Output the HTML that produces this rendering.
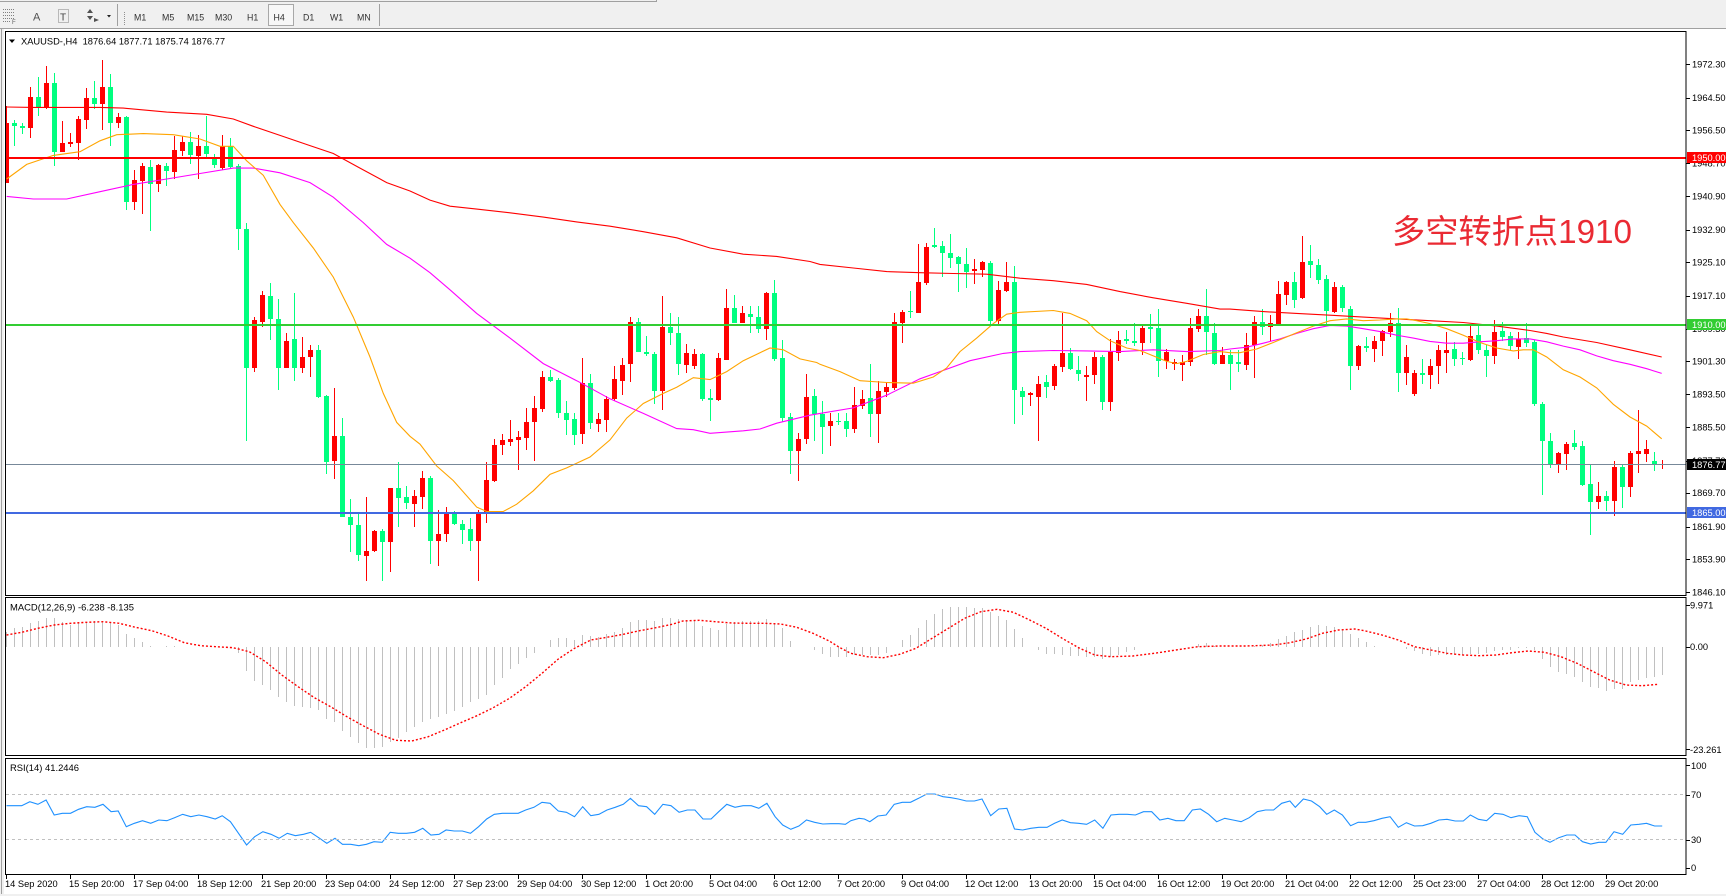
<!DOCTYPE html>
<html><head><meta charset="utf-8">
<style>
html,body{margin:0;padding:0;background:#fff;}
body{width:1726px;height:896px;overflow:hidden;position:relative;}
svg{position:absolute;left:0;top:0;}
text{font-family:"Liberation Sans","Noto Sans CJK SC",sans-serif;white-space:pre;}
</style></head><body>
<svg id="s" width="1726" height="896" viewBox="0 0 1726 896" xmlns="http://www.w3.org/2000/svg">
<defs>
<clipPath id="cm"><rect x="6" y="32" width="1680" height="563"/></clipPath>
<clipPath id="cd"><rect x="6" y="598" width="1680" height="157"/></clipPath>
<clipPath id="cr"><rect x="6" y="759" width="1680" height="115"/></clipPath>
</defs>
<rect width="1726" height="896" fill="#fff"/>
<!-- toolbar -->
<rect x="0" y="0" width="1726" height="29" fill="#f0f0f0"/>
<g shape-rendering="crispEdges">
<line x1="0" y1="28.5" x2="1726" y2="28.5" stroke="#a0a0a0"/>
<line x1="0" y1="1.5" x2="656" y2="1.5" stroke="#a0a0a0"/>
<line x1="656.5" y1="0" x2="656.5" y2="2" stroke="#a0a0a0"/>
<g stroke="#808080" stroke-dasharray="1 1">
<line x1="3" y1="9.5" x2="14" y2="9.5"/><line x1="3" y1="12.5" x2="14" y2="12.5"/>
<line x1="3" y1="15.5" x2="14" y2="15.5"/><line x1="3" y1="18.5" x2="14" y2="18.5"/>
<line x1="3" y1="21.5" x2="10" y2="21.5"/>
<rect x="58.5" y="9.5" width="10" height="13" fill="none"/>
</g>
<line x1="117.5" y1="4" x2="117.5" y2="26" stroke="#a0a0a0"/>
<line x1="124.5" y1="12" x2="124.5" y2="26" stroke="#909090" stroke-dasharray="1 1"/>
<line x1="379.5" y1="4" x2="379.5" y2="26" stroke="#a0a0a0"/>
<rect x="268.5" y="4.5" width="25" height="21" fill="#f7f7f7" stroke="#a8a8a8"/>
</g>
<text x="12" y="24" font-size="6" fill="#606060">F</text>
<text x="33" y="20.5" font-size="11" fill="#505050">A</text>
<text x="60" y="20.5" font-size="10" fill="#404040">T</text>
<polygon points="87,13 90,9 93,13" fill="#505050"/>
<polygon points="87,16 90,20 93,16" fill="#505050"/>
<polygon points="94,18 99,20 94,22" fill="#505050"/>
<polygon points="107,15 111,15 109,17.5" fill="#202020"/>
<g font-size="8.8" fill="#303030">
<text x="134" y="20.5">M1</text>
<text x="162" y="20.5">M5</text>
<text x="187" y="20.5">M15</text>
<text x="215" y="20.5">M30</text>
<text x="247" y="20.5">H1</text>
<text x="273.5" y="20.5">H4</text>
<text x="303" y="20.5">D1</text>
<text x="330" y="20.5">W1</text>
<text x="357" y="20.5">MN</text>
</g>
<!-- window left frame -->
<rect x="0" y="29" width="4" height="867" fill="#f0f0f0"/>
<line x1="1.5" y1="29" x2="1.5" y2="894" stroke="#a0a0a0" shape-rendering="crispEdges"/>
<rect x="0" y="894" width="1726" height="2" fill="#f0f0f0"/>

<!-- dynamic chart content -->
<g id="dm" clip-path="url(#cm)"></g>
<g id="dd" clip-path="url(#cd)"></g>
<g id="dr" clip-path="url(#cr)"></g>

<!-- horizontal level lines -->
<g shape-rendering="crispEdges" clip-path="url(#cm)">
<rect x="6" y="157" width="1680" height="2" fill="#ff0000"/>
<rect x="6" y="324" width="1680" height="2" fill="#32cd32"/>
<rect x="6" y="512" width="1680" height="2" fill="#4169e1"/>
<rect x="6" y="464" width="1680" height="1" fill="#778899"/>
</g>
<!-- RSI levels -->
<g stroke="#c0c0c0" stroke-dasharray="3 3" shape-rendering="crispEdges">
<line x1="6" y1="794.5" x2="1686" y2="794.5"/>
<line x1="6" y1="839.5" x2="1686" y2="839.5"/>
</g>

<!-- frames -->
<g fill="none" stroke="#000" shape-rendering="crispEdges">
<rect x="5.5" y="31.5" width="1680.5" height="564"/>
<rect x="5.5" y="597.5" width="1680.5" height="158"/>
<rect x="5.5" y="758.5" width="1680.5" height="116"/>
</g>
<g id="ticks" stroke="#000" shape-rendering="crispEdges"></g>

<!-- title -->
<polygon points="9,39.5 15,39.5 12,43" fill="#000"/>
<text x="21" y="44.5" font-size="9.4" fill="#000" textLength="204" lengthAdjust="spacingAndGlyphs">XAUUSD-,H4  1876.64 1877.71 1875.74 1876.77</text>
<text x="10" y="610.5" font-size="9.4" fill="#000" textLength="124" lengthAdjust="spacingAndGlyphs">MACD(12,26,9) -6.238 -8.135</text>
<text x="10" y="771" font-size="9.4" fill="#000" textLength="69" lengthAdjust="spacingAndGlyphs">RSI(14) 41.2446</text>

<!-- Chinese annotation -->
<text x="1392" y="243" font-size="33" fill="#ea2a33" textLength="240" lengthAdjust="spacingAndGlyphs" font-family="'Liberation Sans','Noto Sans CJK SC',sans-serif">多空转折点1910</text>

<!-- price axis labels -->
<g font-size="9.3" fill="#000">
<text x="1692" y="67.4">1972.30</text>
<text x="1692" y="101.1">1964.50</text>
<text x="1692" y="133.7">1956.50</text>
<text x="1692" y="166.4">1948.70</text>
<text x="1692" y="199.7">1940.90</text>
<text x="1692" y="233.1">1932.90</text>
<text x="1692" y="265.4">1925.10</text>
<text x="1692" y="299.1">1917.10</text>
<text x="1692" y="331.9">1909.30</text>
<text x="1692" y="364.4">1901.30</text>
<text x="1692" y="397.7">1893.50</text>
<text x="1692" y="430.4">1885.50</text>
<text x="1692" y="463.9">1877.70</text>
<text x="1692" y="496.1">1869.70</text>
<text x="1692" y="530.1">1861.90</text>
<text x="1692" y="562.7">1853.90</text>
<text x="1692" y="595.7">1846.10</text>
</g>
<!-- price boxes -->
<g shape-rendering="crispEdges">
<rect x="1687" y="152" width="39" height="11" fill="#ff0000"/>
<rect x="1687" y="319" width="39" height="11" fill="#32cd32"/>
<rect x="1687" y="459" width="39" height="11" fill="#000"/>
<rect x="1687" y="507" width="39" height="11" fill="#4169e1"/>
</g>
<g font-size="9.3" fill="#fff">
<text x="1692" y="161">1950.00</text>
<text x="1692" y="328">1910.00</text>
<text x="1692" y="468">1876.77</text>
<text x="1692" y="516">1865.00</text>
</g>
<!-- indicator axis labels -->
<g font-size="9.3" fill="#000">
<text x="1690" y="608.5">9.971</text>
<text x="1690" y="650">0.00</text>
<text x="1690" y="753">-23.261</text>
<text x="1691" y="769">100</text>
<text x="1691" y="798">70</text>
<text x="1691" y="843">30</text>
<text x="1691" y="871">0</text>
</g>
<!-- time labels -->
<g font-size="9.3" fill="#000">
<text x="5" y="887">14 Sep 2020</text>
<text x="69" y="887">15 Sep 20:00</text>
<text x="133" y="887">17 Sep 04:00</text>
<text x="197" y="887">18 Sep 12:00</text>
<text x="261" y="887">21 Sep 20:00</text>
<text x="325" y="887">23 Sep 04:00</text>
<text x="389" y="887">24 Sep 12:00</text>
<text x="453" y="887">27 Sep 23:00</text>
<text x="517" y="887">29 Sep 04:00</text>
<text x="581" y="887">30 Sep 12:00</text>
<text x="645" y="887">1 Oct 20:00</text>
<text x="709" y="887">5 Oct 04:00</text>
<text x="773" y="887">6 Oct 12:00</text>
<text x="837" y="887">7 Oct 20:00</text>
<text x="901" y="887">9 Oct 04:00</text>
<text x="965" y="887">12 Oct 12:00</text>
<text x="1029" y="887">13 Oct 20:00</text>
<text x="1093" y="887">15 Oct 04:00</text>
<text x="1157" y="887">16 Oct 12:00</text>
<text x="1221" y="887">19 Oct 20:00</text>
<text x="1285" y="887">21 Oct 04:00</text>
<text x="1349" y="887">22 Oct 12:00</text>
<text x="1413" y="887">25 Oct 23:00</text>
<text x="1477" y="887">27 Oct 04:00</text>
<text x="1541" y="887">28 Oct 12:00</text>
<text x="1605" y="887">29 Oct 20:00</text>
</g>
</svg>
<script>
(function(){
const NS="http://www.w3.org/2000/svg";
function el(t,a,p){const e=document.createElementNS(NS,t);for(const k in a)e.setAttribute(k,a[k]);p.appendChild(e);return e;}
const gm=document.getElementById('dm'),gd=document.getElementById('dd'),gr=document.getElementById('dr'),gt=document.getElementById('ticks');
const S=2.752, cy=z=>30+z/S;
const C=[
[1,255,420,210,420],[0,255,265,248,318],[0,263,270,255,285],[1,185,270,158,297],[0,185,215,130,237],
[1,147,215,100,218],[0,147,335,117,373],[1,312,335,250,337],[1,308,315,284,322],[1,245,310,238,357],
[1,187,247,160,273],[0,187,203,140,218],[1,157,203,83,275],[0,157,255,122,320],[1,240,255,228,270],
[0,240,472,237,495],[1,413,472,385,495],[1,375,415,365,505],[0,377,423,358,552],[1,372,423,368,445],
[0,375,388,365,428],[1,330,390,292,410],[1,308,332,293,347],[0,308,345,282,368],[1,320,348,290,410],
[0,320,340,237,350],[0,355,372,340,380],[1,318,380,290,385],[0,318,378,298,380],[0,373,548,370,605],
[0,548,930,532,1130],[1,798,930,790,940],[1,730,803,718,818],[0,733,795,697,852],[0,795,930,740,990],
[1,857,930,835,930],[0,850,930,725,965],[1,900,930,845,945],[1,880,900,868,955],[0,880,1010,867,1012],
[0,1007,1188,1005,1222],[1,1117,1187,985,1237],[0,1117,1340,1068,1340],[0,1340,1362,1290,1437],[0,1362,1445,1332,1460],
[1,1433,1447,1285,1515],[1,1378,1433,1375,1437],[0,1378,1410,1372,1515],[1,1260,1410,1260,1492],[0,1260,1288,1190,1368],
[0,1285,1302,1255,1318],[1,1282,1305,1265,1368],[1,1232,1285,1213,1318],[0,1232,1405,1228,1470],[1,1387,1407,1320,1475],
[1,1330,1388,1312,1410],[0,1330,1360,1325,1362],[0,1360,1375,1348,1415],[0,1373,1407,1342,1435],[1,1330,1407,1320,1515],
[1,1238,1330,1190,1358],[1,1142,1240,1125,1245],[1,1128,1142,1113,1170],[1,1125,1133,1073,1145],[1,1120,1128,1103,1212],
[1,1078,1122,1040,1155],[1,1040,1080,1007,1187],[1,955,1042,938,1050],[0,955,965,935,968],[0,963,1053,958,1068],
[0,1053,1072,1020,1115],[0,1070,1115,1055,1142],[1,972,1112,902,1140],[0,972,1082,948,1098],[1,1070,1085,1055,1105],
[1,1015,1072,1008,1105],[1,960,1015,925,1020],[1,922,965,902,1005],[1,803,920,790,970],[0,803,885,792,887],
[0,885,892,842,898],[0,893,993,885,1028],[1,817,993,732,1047],[0,817,835,780,868],[0,835,920,790,950],
[1,890,922,863,945],[1,892,925,878,932],[0,892,1015,890,1022],[0,1013,1017,988,1077],[1,902,1018,890,1022],
[1,765,907,712,907],[0,765,805,730,805],[1,780,805,760,805],[0,782,790,760,835],[0,790,822,760,833],
[1,725,822,720,852],[0,725,905,688,910],[0,902,1068,853,1080],[0,1065,1158,1053,1222],[1,1125,1158,1110,1240],
[1,1010,1125,948,1138],[0,1008,1058,988,1130],[0,1058,1093,1020,1168],[1,1075,1090,1055,1145],[0,1075,1078,1055,1088],
[0,1075,1098,1055,1120],[1,1032,1098,982,1110],[1,1015,1035,990,1042],[0,1012,1058,918,1120],[1,993,1058,965,1137],
[1,982,995,968,1010],[1,803,985,778,990],[1,775,805,770,862],[0,773,777,718,793],[1,693,780,590,780],
[1,597,695,585,703],[0,592,596,545,600],[0,595,615,580,680],[0,613,628,562,655],[0,625,645,622,720],
[0,645,665,600,710],[1,657,662,630,698],[1,638,660,635,680],[0,642,800,637,808],[1,715,800,690,808],
[1,693,718,638,722],[0,693,992,650,1085],[0,993,1010,983,1060],[1,1000,1004,995,1035],[1,975,1010,952,1132],
[0,970,982,950,1013],[1,925,980,918,992],[1,890,927,778,940],[0,890,932,875,935],[0,935,948,898,965],
[1,950,955,925,1022],[1,900,950,885,975],[0,900,1025,895,1045],[1,887,1025,850,1048],[1,853,888,828,910],
[0,850,855,825,865],[0,855,862,805,870],[1,820,862,812,895],[0,818,822,782,860],[0,820,910,768,955],
[1,885,910,878,932],[1,915,920,905,935],[1,915,922,895,965],[1,820,915,793,925],[1,787,822,768,832],
[0,787,832,712,895],[0,833,918,805,922],[1,895,918,872,920],[0,895,918,880,992],[0,915,920,880,942],
[1,868,922,835,935],[1,803,868,788,958],[0,803,818,768,840],[1,807,818,785,855],[1,727,808,692,815],
[1,693,728,690,758],[0,693,743,665,765],[1,638,738,568,740],[0,636,648,592,682],[0,647,688,630,698],
[0,686,772,675,810],[1,708,775,693,780],[0,707,765,702,775],[0,767,925,760,992],[1,870,925,868,935],
[0,870,875,845,887],[1,857,877,843,915],[1,828,857,825,898],[1,805,830,778,845],[0,805,945,765,995],
[1,900,945,868,978],[1,945,1003,935,1008],[0,945,950,905,975],[1,925,950,905,988],[1,882,925,868,975],
[1,880,888,832,943],[0,878,905,858,925],[0,903,905,885,922],[1,843,907,810,910],[0,840,882,810,893],
[0,880,897,868,955],[1,830,898,798,920],[0,828,845,803,857],[0,843,870,830,882],[1,850,872,832,905],
[0,848,860,805,872],[0,858,1028,853,1035],[0,1028,1132,1023,1280],[0,1132,1195,1110,1205],[1,1163,1197,1160,1218],
[1,1138,1168,1135,1210],[0,1136,1147,1100,1155],[0,1145,1253,1130,1255],[0,1250,1300,1195,1390],[1,1283,1300,1245,1318],
[0,1283,1295,1270,1325],[1,1202,1295,1185,1338],[0,1202,1258,1195,1315],[1,1165,1258,1158,1285],[1,1158,1168,1045,1220],
[1,1153,1168,1128,1188],[0,1187,1195,1160,1215],[1,1193,1196,1183,1207]
];
C.forEach((d,i)=>{
  const x=6+8*i, col=d[0]?'#ff0000':'#00ff7f';
  const wt=Math.round(cy(d[3])), wb=Math.round(cy(d[4]));
  el('rect',{x:x,y:wt,width:1,height:Math.max(1,wb-wt),fill:col,'shape-rendering':'crispEdges'},gm);
  const bt=Math.round(cy(d[1])), bb=Math.round(cy(d[2]));
  el('rect',{x:x-2,y:bt,width:5,height:Math.max(1,bb-bt),fill:col,'shape-rendering':'crispEdges'},gm);
});
function ma(chunks,color){
  const pts=[];
  chunks.forEach(([off,arr,lo,hi])=>arr.forEach(p=>{const x=off+p[0]/3;if(x>=lo&&x<hi)pts.push([x,cy(p[1])]);}));
  el('polyline',{points:pts.map(p=>p[0].toFixed(1)+','+p[1].toFixed(1)).join(' '),fill:'none',stroke:color,'stroke-width':1.1},gm);
}
ma([
 [0,[[20,212],[100,213],[200,213],[300,213],[370,215],[500,226],[620,232],[700,245],[760,265],[840,290],[930,318],[1000,340],[1080,380],[1160,420],[1260,450]],0,410],
 [410,[[0,443],[60,468],[120,485],[200,493],[300,503],[400,515],[500,528],[600,540],[700,555],[800,572],[900,600],[1000,617],[1100,623],[1200,637],[1260,648]],410,820],
 [820,[[0,645],[100,655],[200,665],[300,668],[400,670],[500,672],[600,683],[700,690],[800,700],[900,720],[1000,737],[1100,752],[1200,768],[1260,773]],820,1230],
 [1230,[[0,768],[100,775],[200,780],[300,785],[400,790],[500,795],[600,800],[700,805],[800,815],[900,827],[950,835],[1000,845],[1100,860],[1200,880],[1295,900]],1230,1700]
],'#ff0000');
ma([
 [0,[[20,458],[100,465],[200,465],[300,445],[400,425],[500,410],[600,395],[700,380],[760,380],[840,393],[930,420],[1000,460],[1090,530],[1160,590],[1260,650]],0,410],
 [410,[[0,628],[60,668],[120,715],[200,780],[300,848],[400,918],[500,965],[600,1015],[700,1055],[800,1097],[850,1100],[900,1110],[1000,1103],[1050,1098],[1100,1082],[1200,1060],[1260,1050]],410,820],
 [820,[[0,1055],[100,1040],[200,1005],[300,960],[360,940],[450,910],[550,890],[600,885],[700,882],[800,883],[900,885],[1000,880],[1100,885],[1200,882],[1260,876]],820,1230],
 [1230,[[0,878],[50,873],[100,862],[150,850],[200,835],[250,822],[300,813],[350,815],[400,822],[450,830],[500,840],[550,848],[600,857],[650,862],[700,862],[750,858],[800,855],[850,850],[900,850],[950,858],[1000,870],[1050,880],[1100,897],[1150,910],[1200,920],[1250,932],[1295,945]],1230,1700]
],'#ff00ff');
ma([
 [0,[[20,410],[80,370],[160,345],[240,335],[300,305],[350,288],[430,285],[520,288],[600,300],[660,320],[700,320],[740,360],[790,400],[840,480],[880,530],[940,600],[1000,680],[1060,790],[1110,900],[1150,1000],[1190,1080],[1230,1130],[1260,1140]],0,410],
 [410,[[0,1118],[30,1140],[80,1200],[130,1240],[200,1313],[230,1325],[280,1325],[320,1305],[370,1268],[420,1223],[470,1205],[540,1175],[600,1128],[650,1068],[700,1028],[760,1000],[800,983],[850,957],[900,962],[950,940],[1000,910],[1050,888],[1080,875],[1120,880],[1170,905],[1220,915],[1260,935]],410,820],
 [820,[[0,920],[60,940],[120,965],[200,970],[280,972],[340,955],[380,930],[420,885],[470,848],[520,808],[560,782],[600,777],[700,772],[750,780],[800,800],[830,830],[870,855],[920,875],[960,882],[1000,897],[1040,912],[1070,918],[1100,912],[1150,893],[1200,885],[1260,885]],820,1230],
 [1230,[[0,888],[30,888],[80,878],[130,860],[200,833],[250,815],[300,800],[350,795],[400,800],[450,798],[500,795],[530,795],[560,800],[600,808],[650,822],[700,840],[750,860],[800,875],[850,883],[880,880],[910,880],[950,900],[1000,935],[1050,955],[1100,985],[1150,1030],[1200,1065],[1250,1090],[1295,1125]],1230,1700]
],'#ffa500');

function interp(arr,zx){if(zx<=arr[0][0])return arr[0][1];for(let i=1;i<arr.length;i++){if(zx<=arr[i][0]){const a=arr[i-1],b=arr[i];return a[1]+(b[1]-a[1])*(zx-a[0])/(b[0]-a[0]);}}return arr[arr.length-1][1];}
const HA=[[12,110],[27,100],[42,95],[57,85],[72,78],[87,67],[100,70],[115,80],[130,90],[145,85],[160,80],[175,78],[190,80],[205,80],[218,90],[233,118],[248,130],[263,140],[278,153],[293,155],[308,152],[322,153],[337,155],[425,155],[440,175],[455,228],[470,258],[485,270],[500,285],[515,308],[530,322],[545,335],[560,335],[573,340],[588,345],[603,372],[618,382],[632,408],[647,425],[662,445],[676,458],[690,458],[705,458],[720,440],[735,428],[750,410],[765,395],[780,382],[795,372],[810,365],[823,358],[838,348],[853,335],[868,322],[883,312],[898,300],[912,272],[927,248],[942,222],[956,208],[970,192],[985,175],[1000,158],[1015,135],[1030,128],[1045,130],[1060,135],[1075,120],[1090,122],[1105,125],[1120,118],[1135,112],[1150,98],[1163,82],[1178,75],[1193,75],[1208,78],[1223,70],[1238,70],[1253,72],[1268,75],[1282,75],[1297,93],[1312,100],[1326,105],[1341,85],[1356,80],[1371,78],[1386,78],[1400,78],[1415,72],[1430,85],[1444,98],[1459,140],[1474,155],[1488,155],[1503,165],[1518,178],[1533,185],[1548,185],[1563,195]];
const HB=[[0,180],[12,185],[27,180],[42,180],[57,180],[72,180],[87,172],[100,158],[115,135],[130,120],[145,100],[160,75],[175,55],[190,42],[205,37],[218,37],[233,37],[248,40],[263,40],[278,50],[293,62],[308,75],[322,102],[337,130],[352,155],[367,165],[382,178],[396,178],[410,180],[425,183],[440,183],[455,185],[470,185],[485,193],[500,185],[515,180],[530,170],[545,165],[560,155],[650,155],[665,145],[680,145],[695,155],[755,155],[770,150],[785,148],[800,140],[815,128],[830,118],[845,108],[860,100],[875,92],[890,90],[905,95],[920,100],[935,110],[950,125],[965,135],[980,150],[995,155],[1025,155],[1040,162],[1055,165],[1070,175],[1085,185],[1100,180],[1115,180],[1130,180],[1145,180],[1160,178],[1175,178],[1190,175],[1205,170],[1220,165],[1235,165],[1250,160],[1265,160],[1280,162],[1295,190],[1310,215],[1325,232],[1340,238],[1355,245],[1370,260],[1385,275],[1400,280],[1415,288],[1430,280],[1445,283],[1460,260],[1475,255],[1490,248],[1505,245],[1518,240]];
const Y0=647;
for(let k=0;k<208;k++){
  const x=6.5+8*k;
  const zy=x<843?interp(HA,x*1.845):interp(HB,(x-840)*1.845);
  const y=595+zy/3;
  if(Math.abs(y-Y0)<0.8)continue;
  el('rect',{x:6+8*k,y:Math.round(Math.min(y,Y0)),width:1,height:Math.max(1,Math.round(Math.abs(y-Y0))),fill:'#c0c0c0','shape-rendering':'crispEdges'},gd);
}
const SA=[[12,120],[40,112],[70,100],[100,90],[130,85],[160,82],[190,80],[220,85],[250,97],[280,107],[310,123],[340,143],[370,152],[400,155],[430,158],[460,170],[490,200],[520,240],[550,275],[580,308],[610,335],[640,365],[670,392],[700,418],[730,436],[760,438],[790,425],[820,405],[850,383],[880,362],[910,338],[940,310],[970,275],[1000,235],[1030,192],[1060,160],[1090,135],[1120,127],[1150,118],[1180,107],[1210,98],[1240,88],[1260,78],[1290,76],[1320,80],[1350,84],[1380,85],[1410,85],[1440,87],[1470,97],[1500,115],[1530,138]];
const SB=[[0,158],[20,175],[50,185],[80,188],[110,178],[140,160],[170,130],[200,100],[230,70],[260,50],[290,43],[320,52],[350,75],[380,100],[410,130],[440,158],[470,180],[500,185],[540,183],[580,175],[620,165],[660,155],[700,153],[750,153],[800,150],[830,143],[860,132],[890,115],[920,105],[950,102],[970,108],[1000,120],[1030,135],[1060,155],[1090,165],[1120,175],[1150,180],[1180,182],[1210,180],[1240,173],[1270,168],[1300,172],[1330,185],[1360,205],[1390,230],[1420,255],[1450,270],[1480,272],[1510,268]];
let sp=SA.map(p=>[p[0]/1.845,595+p[1]/3]).concat(SB.map(p=>[840+p[0]/1.845,595+p[1]/3]));
el('polyline',{points:sp.map(p=>p[0].toFixed(1)+','+p[1].toFixed(1)).join(' '),fill:'none',stroke:'#ff0000','stroke-width':1.4,'stroke-dasharray':'2 2'},gd);
const RA=[[12,632],[40,632],[55,620],[70,628],[85,615],[100,660],[115,655],[130,655],[145,643],[160,635],[175,637],[190,628],[205,650],[218,648],[233,695],[248,685],[263,677],[278,685],[293,675],[308,677],[322,668],[337,658],[352,665],[367,660],[382,665],[397,672],[410,662],[425,680],[440,715],[455,750],[470,725],[485,710],[500,718],[515,730],[530,715],[545,722],[560,718],[573,712],[588,728],[603,745],[618,730],[632,748],[647,748],[662,752],[676,748],[690,740],[705,742],[720,712],[735,715],[750,715],[765,712],[780,700],[795,720],[810,718],[823,705],[838,708],[853,708],[868,715],[883,695],[898,672],[912,658],[927,655],[942,655],[956,655],[970,645],[985,637],[1000,622],[1015,625],[1030,648],[1045,652],[1060,665],[1075,635],[1090,662],[1105,658],[1120,645],[1135,637],[1150,628],[1163,610],[1178,632],[1193,635],[1208,658],[1223,628],[1238,632],[1253,652],[1268,645],[1282,645],[1297,672],[1312,672],[1326,650],[1341,628],[1356,637],[1371,632],[1386,632],[1400,640],[1415,625],[1430,665],[1444,690],[1459,703],[1474,693],[1488,675],[1503,682],[1518,687],[1533,686],[1548,686]];
const RB=[[10,688],[20,677],[35,670],[45,672],[55,680],[70,663],[85,660],[100,628],[115,622],[130,622],[145,610],[160,597],[175,597],[190,605],[205,608],[218,612],[233,618],[248,618],[262,612],[278,662],[293,642],[308,640],[322,702],[337,705],[352,700],[367,697],[382,697],[396,685],[410,675],[425,683],[440,685],[455,688],[470,675],[485,700],[500,660],[515,658],[530,658],[545,660],[560,650],[575,650],[590,675],[605,670],[620,677],[635,677],[650,645],[665,642],[680,658],[695,680],[710,670],[725,675],[740,680],[755,668],[770,650],[785,645],[800,645],[815,625],[830,618],[840,637],[855,612],[870,618],[885,635],[898,658],[912,645],[927,660],[942,692],[956,682],[970,682],[985,677],[1000,670],[1015,665],[1030,697],[1045,683],[1060,693],[1075,692],[1090,685],[1105,675],[1120,673],[1135,678],[1150,678],[1163,660],[1178,673],[1193,677],[1208,655],[1223,658],[1238,668],[1253,662],[1268,665],[1282,712],[1297,732],[1310,742],[1326,728],[1341,720],[1356,720],[1370,740],[1385,747],[1400,742],[1413,742],[1428,710],[1444,718],[1459,690],[1474,688],[1488,685],[1503,693],[1517,693]];
let rp=RA.map(p=>[p[0]/1.845,595+p[1]/3]).concat(RB.map(p=>[840+p[0]/1.845,595+p[1]/3]));
el('polyline',{points:rp.map(p=>p[0].toFixed(1)+','+p[1].toFixed(1)).join(' '),fill:'none',stroke:'#1e90ff','stroke-width':1.1},gr);
[64,97.7,130.3,163,196.3,229.7,262,295.7,328.5,361,394.3,427,460.5,492.7,526.7,559.3,592.3,605,647,749,765,794.5,839.5,867.5].forEach(y=>{
  const yy=Math.round(y)+0.5;el('line',{x1:1686,y1:yy,x2:1690,y2:yy},gt);
});
for(let i=0;i<26;i++){const x=6.5+64*i;el('line',{x1:x,y1:875,x2:x,y2:879},gt);}
})();
</script>
</body></html>
